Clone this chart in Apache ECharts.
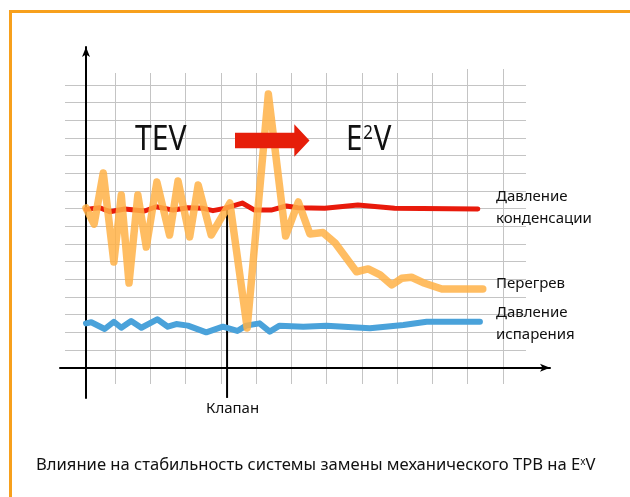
<!DOCTYPE html>
<html>
<head>
<meta charset="utf-8">
<script src="https://cdn.jsdelivr.net/npm/echarts@6/dist/echarts.min.js"></script>
<style>
  html, body { margin: 0; padding: 0; background: #fff; }
  #chart { width: 630px; height: 497px; }
</style>
</head>
<body>
<div id="chart"></div>
<script>
// Time in grid cells from the start of the record, value in grid cells above the baseline.
const condensationTime = [0, 0.39, 0.67, 1.10, 1.66, 1.99, 2.47, 2.89, 3.32, 3.60, 3.93, 4.43, 4.78, 5.25, 5.68, 6.01, 6.77, 7.71, 8.75, 11.11];
const condensationValue = [8.96, 9.05, 8.83, 8.98, 8.87, 9.11, 8.92, 9.05, 9.02, 8.89, 9.02, 9.32, 8.92, 8.92, 9.15, 9.05, 9.02, 9.21, 9.02, 8.98];

const superheatTime = [0, 0.23, 0.49, 0.79, 1.00, 1.22, 1.47, 1.71, 2.01, 2.37, 2.61, 2.94, 3.18, 3.55, 4.08, 4.57, 5.17, 5.66, 6.02, 6.35, 6.72, 7.06, 7.67, 8.00, 8.34, 8.67, 8.95, 9.23, 9.56, 10.09, 11.25];
const superheatValue = [9.04, 8.13, 11.02, 5.98, 9.77, 4.79, 9.77, 6.83, 10.51, 7.51, 10.57, 7.40, 10.34, 7.51, 9.32, 2.25, 15.49, 7.45, 9.38, 7.57, 7.65, 7.07, 5.43, 5.59, 5.25, 4.68, 5.06, 5.12, 4.81, 4.45, 4.45];

const evaporationTime = [0, 0.15, 0.53, 0.79, 1.00, 1.28, 1.57, 2.02, 2.32, 2.56, 2.89, 3.41, 3.88, 4.29, 4.54, 4.92, 5.21, 5.49, 6.16, 6.82, 8.05, 9.00, 9.66, 11.17];
const evaporationValue = [2.51, 2.57, 2.19, 2.60, 2.26, 2.64, 2.26, 2.74, 2.32, 2.47, 2.38, 2.00, 2.32, 2.08, 2.38, 2.51, 2.04, 2.38, 2.32, 2.38, 2.23, 2.42, 2.60, 2.60];

// Valve switch moment (TEV -> E2V) and the extent of its marker line.
const valveTime = [4, 4];
const valveValue = [-1.71, 9.0];

const seriesNames = ['Давление конденсации', 'Перегрев', 'Давление испарения', 'Клапан'];
const caption = 'Влияние на стабильность системы замены механического ТРВ на E';

const pairs = (xs, ys) => xs.map((x, i) => [x, ys[i]]);

const FONT = '"Noto Sans", "DejaVu Sans", sans-serif';
const GRID_COLOR = '#c4c4c4';

const hidden = { show: false };
const bare = {
  axisLine: hidden, axisTick: hidden, axisLabel: hidden, splitLine: hidden
};
const ruling = { show: true, lineStyle: { color: GRID_COLOR, width: 1 } };

const chart = echarts.init(document.getElementById('chart'), null, { renderer: 'canvas' });

chart.setOption({
  animation: false,
  backgroundColor: '#ffffff',
  textStyle: { fontFamily: FONT },
  grid: [
    // 0: data area
    { left: 86, right: 120.8, top: 85, bottom: 129.3, containLabel: false },
    // 1: horizontal rulings
    { left: 65, right: 104, top: 85, bottom: 129.3 },
    // 2: vertical rulings
    { left: 115, right: 197.6, top: 73, bottom: 113 },
    // 3: time axis with arrow
    { left: 60, right: 80, top: 85, bottom: 129.3 },
    // 4: value axis with arrow
    { left: 86, right: 120, top: 47, bottom: 99 },
    // 5: taller rulings at the right end
    { left: 467.7, right: 127, top: 69, bottom: 113 }
  ],
  xAxis: [
    Object.assign({ type: 'value', gridIndex: 0, min: 0, max: 12 }, bare),
    Object.assign({ type: 'value', gridIndex: 1, min: 0, max: 1 }, bare),
    Object.assign({ type: 'value', gridIndex: 2, min: 0, max: 9, interval: 1 }, bare, { splitLine: ruling }),
    Object.assign({ type: 'value', gridIndex: 3, min: 0, max: 1 }, bare, {
      axisLine: {
        show: true, onZero: false, symbol: ['none', 'arrow'], symbolSize: [6, 10],
        lineStyle: { color: '#000', width: 2 }
      }
    }),
    Object.assign({ type: 'value', gridIndex: 4, min: 0, max: 1 }, bare),
    Object.assign({ type: 'value', gridIndex: 5, min: 0, max: 1, interval: 1 }, bare, { splitLine: ruling })
  ],
  yAxis: [
    Object.assign({ type: 'value', gridIndex: 0, min: 0, max: 16 }, bare),
    Object.assign({ type: 'value', gridIndex: 1, min: 0, max: 16, interval: 1 }, bare, { splitLine: ruling }),
    Object.assign({ type: 'value', gridIndex: 2, min: 0, max: 1 }, bare),
    Object.assign({ type: 'value', gridIndex: 3, min: 0, max: 1 }, bare),
    Object.assign({ type: 'value', gridIndex: 4, min: 0, max: 1 }, bare, {
      axisLine: {
        show: true, onZero: false, symbol: ['none', 'arrow'], symbolSize: [6, 10],
        lineStyle: { color: '#000', width: 2 }
      }
    }),
    Object.assign({ type: 'value', gridIndex: 5, min: 0, max: 1 }, bare)
  ],
  series: [
    {
      name: seriesNames[3], type: 'line', xAxisIndex: 0, yAxisIndex: 0,
      data: pairs(valveTime, valveValue), clip: false, showSymbol: false, symbol: 'none',
      lineStyle: { color: '#000', width: 2 }, z: 2
    },
    {
      name: seriesNames[2], type: 'line', xAxisIndex: 0, yAxisIndex: 0,
      data: pairs(evaporationTime, evaporationValue), showSymbol: false, symbol: 'none',
      lineStyle: { color: '#4aa2da', width: 6, cap: 'round', join: 'round' }, z: 3
    },
    {
      name: seriesNames[0], type: 'line', xAxisIndex: 0, yAxisIndex: 0,
      data: pairs(condensationTime, condensationValue), showSymbol: false, symbol: 'none',
      lineStyle: { color: '#e81a0b', width: 5, cap: 'round', join: 'round' }, z: 4
    },
    {
      name: seriesNames[1], type: 'line', xAxisIndex: 0, yAxisIndex: 0,
      data: pairs(superheatTime, superheatValue), showSymbol: false, symbol: 'none',
      lineStyle: { color: '#ffb247', width: 7.5, opacity: 0.85, cap: 'round', join: 'round' }, z: 5
    }
  ],
  graphic: [
    // frame
    {
      type: 'rect', z: 100, silent: true,
      shape: { x: 10.5, y: 11.5, width: 700, height: 600 },
      style: { fill: 'none', stroke: '#f7a01c', lineWidth: 3 }
    },
    // mode labels and the transition arrow
    {
      type: 'text', z: 100, x: 135, y: 123, scaleX: 0.86,
      style: { text: 'TEV', font: '35px ' + FONT, fill: '#111', verticalAlign: 'top' }
    },
    {
      type: 'polygon', z: 100,
      shape: { points: [[235, 132.7], [294.3, 132.7], [294.3, 124.3], [309.5, 140.5], [294.3, 156.7], [294.3, 148.3], [235, 148.3]] },
      style: { fill: '#e61e0a' }
    },
    {
      type: 'text', z: 100, x: 346, y: 123, scaleX: 0.84,
      style: {
        text: 'E{s|2}V',
        font: '35px ' + FONT, fill: '#111', verticalAlign: 'top',
        rich: { s: { fontSize: 20, fontFamily: FONT, fill: '#111', verticalAlign: 'top', padding: [0, 1, 14, 1] } }
      }
    },
    // series labels
    {
      type: 'text', z: 100, left: 496, top: 186,
      style: { text: 'Давление\nконденсации', font: '15px ' + FONT, fill: '#111', lineHeight: 22 }
    },
    {
      type: 'text', z: 100, left: 496, top: 276,
      style: { text: 'Перегрев', font: '15px ' + FONT, fill: '#111' }
    },
    {
      type: 'text', z: 100, left: 496, top: 302,
      style: { text: 'Давление\nиспарения', font: '15px ' + FONT, fill: '#111', lineHeight: 22 }
    },
    {
      type: 'text', z: 100, left: 206, top: 401,
      style: { text: 'Клапан', font: '15px ' + FONT, fill: '#111' }
    },
    // caption
    {
      type: 'text', z: 100, left: 36, top: 457,
      style: {
        text: caption + '{s|x}V',
        font: '16.6px ' + FONT, fill: '#111',
        rich: { s: { fontSize: 10, fontFamily: FONT, fill: '#111', padding: [0, 0, 7, 0] } }
      }
    }
  ]
});
</script>
</body>
</html>
